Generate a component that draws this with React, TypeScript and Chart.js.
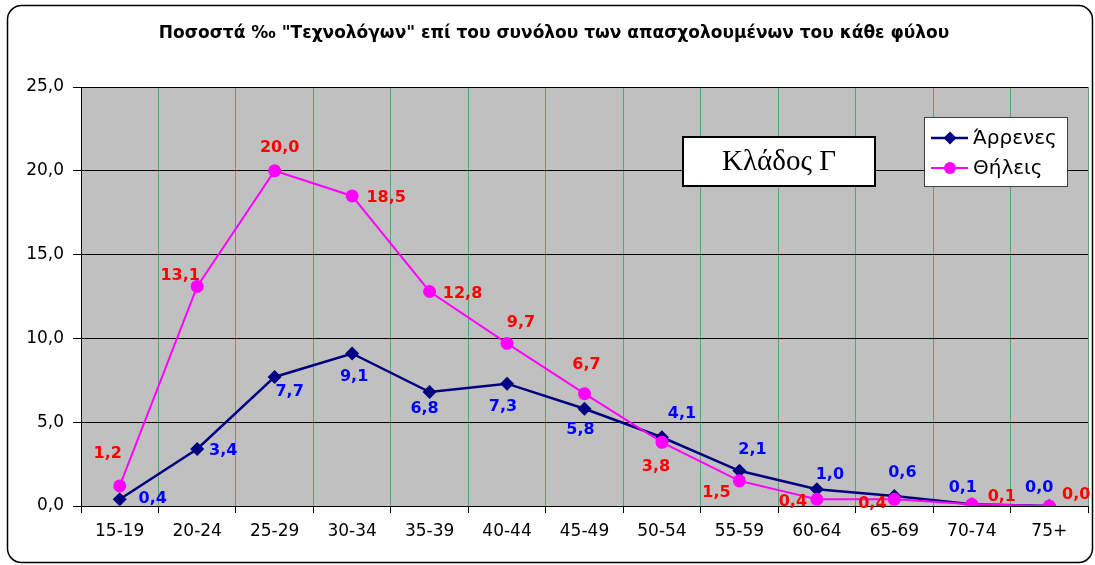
import React, { useEffect, useRef } from 'react';
import { Chart, registerables } from 'chart.js';

Chart.register(...registerables);

const categories = ['15-19', '20-24', '25-29', '30-34', '35-39', '40-44', '45-49', '50-54', '55-59', '60-64', '65-69', '70-74', '75+'];
const maleValues = [0.4, 3.4, 7.7, 9.1, 6.8, 7.3, 5.8, 4.1, 2.1, 1.0, 0.6, 0.1, 0.0];
const femaleValues = [1.2, 13.1, 20.0, 18.5, 12.8, 9.7, 6.7, 3.8, 1.5, 0.4, 0.4, 0.1, 0.0];
const titleText = 'Ποσοστά ‰ "Τεχνολόγων" επί του συνόλου των απασχολουμένων του κάθε φύλου';
const maleLabel = 'Άρρενες';
const femaleLabel = 'Θήλεις';
const boxText = 'Κλάδος Γ';

// label offsets (dx, dy) from each point, in px
const maleLabelOffsets = [[33, 0], [26, 2], [15, 15], [2, 23], [-5, 17], [-4, 23], [-4, 21], [20, -23], [13, -21], [13, -14], [8, -23], [-9, -16], [-10, -18]];
const femaleLabelOffsets = [[-12, -32], [-17, -11], [5, -23], [34, 2], [33, 2], [14, -21], [2, -29], [-6, 25], [-23, 12], [-24, 3], [-22, 5], [30, -7], [27, -11]];

const fmt = (v: number) => v.toFixed(1).replace('.', ',');

const decorPlugin = {
  id: 'decor',
  beforeDraw(chart: any) {
    const { ctx, chartArea } = chart;
    ctx.save();
    ctx.fillStyle = '#ffffff';
    ctx.fillRect(0, 0, chart.width, chart.height);
    // frame
    ctx.strokeStyle = '#000000';
    ctx.lineWidth = 1.5;
    ctx.beginPath();
    ctx.roundRect(7.5, 5.5, 1085, 557, 14);
    ctx.stroke();
    // title
    ctx.fillStyle = '#000000';
    ctx.font = 'bold 17px "DejaVu Sans"';
    ctx.textAlign = 'center';
    ctx.textBaseline = 'middle';
    ctx.fillText(titleText, 554, 34);
    // plot background
    ctx.fillStyle = '#c0c0c0';
    ctx.fillRect(chartArea.left, chartArea.top, chartArea.right - chartArea.left, chartArea.bottom - chartArea.top);
    ctx.restore();
  },
  afterDatasetsDraw(chart: any) {
    const { ctx } = chart;
    ctx.save();
    ctx.font = 'bold 16px "DejaVu Sans"';
    ctx.textAlign = 'center';
    ctx.textBaseline = 'middle';
    const mMeta = chart.getDatasetMeta(0);
    const fMeta = chart.getDatasetMeta(1);
    ctx.fillStyle = '#0000ff';
    mMeta.data.forEach((p: any, i: number) => {
      ctx.fillText(fmt(maleValues[i]), p.x + maleLabelOffsets[i][0], p.y + maleLabelOffsets[i][1]);
    });
    ctx.fillStyle = '#ff0000';
    fMeta.data.forEach((p: any, i: number) => {
      ctx.fillText(fmt(femaleValues[i]), p.x + femaleLabelOffsets[i][0], p.y + femaleLabelOffsets[i][1]);
    });

    // Κλάδος box
    ctx.fillStyle = '#ffffff';
    ctx.fillRect(683, 137, 192, 49);
    ctx.strokeStyle = '#000000';
    ctx.lineWidth = 2;
    ctx.strokeRect(683, 137, 192, 49);
    ctx.fillStyle = '#000000';
    ctx.font = '29px "Liberation Serif"';
    ctx.fillText(boxText, 779, 162);

    // legend
    ctx.fillStyle = '#ffffff';
    ctx.fillRect(924.5, 117.5, 143, 69);
    ctx.strokeStyle = '#404040';
    ctx.lineWidth = 1;
    ctx.strokeRect(924.5, 117.5, 143, 69);
    // male
    ctx.strokeStyle = '#000080';
    ctx.lineWidth = 2.5;
    ctx.beginPath();
    ctx.moveTo(931, 138);
    ctx.lineTo(968, 138);
    ctx.stroke();
    ctx.fillStyle = '#000080';
    ctx.beginPath();
    ctx.moveTo(950, 131.5);
    ctx.lineTo(956.5, 138);
    ctx.lineTo(950, 144.5);
    ctx.lineTo(943.5, 138);
    ctx.closePath();
    ctx.fill();
    // female
    ctx.strokeStyle = '#ff00ff';
    ctx.lineWidth = 2;
    ctx.beginPath();
    ctx.moveTo(931, 168);
    ctx.lineTo(968, 168);
    ctx.stroke();
    ctx.fillStyle = '#ff00ff';
    ctx.beginPath();
    ctx.arc(950, 168, 6, 0, Math.PI * 2);
    ctx.fill();
    ctx.fillStyle = '#000000';
    ctx.font = '20px "DejaVu Sans"';
    ctx.textAlign = 'left';
    ctx.fillText(maleLabel, 973, 139);
    ctx.fillText(femaleLabel, 973, 169);
    ctx.restore();
  },
};

export default function App() {
  const canvasRef = useRef<HTMLCanvasElement | null>(null);

  useEffect(() => {
    const canvas = canvasRef.current;
    if (!canvas) return;
    const chart = new Chart(canvas, {
      type: 'line',
      data: {
        labels: categories,
        datasets: [
          {
            label: maleLabel,
            data: maleValues,
            borderColor: '#000080',
            backgroundColor: '#000080',
            borderWidth: 2.5,
            pointStyle: 'rectRot',
            pointRadius: 7,
            pointBorderWidth: 0,
            pointBackgroundColor: '#000080',
            tension: 0,
            order: 1,
          },
          {
            label: femaleLabel,
            data: femaleValues,
            borderColor: '#ff00ff',
            backgroundColor: '#ff00ff',
            borderWidth: 2,
            pointStyle: 'circle',
            pointRadius: 6.5,
            pointBorderWidth: 0,
            pointBackgroundColor: '#ff00ff',
            tension: 0,
            order: 0,
          },
        ],
      },
      options: {
        animation: false,
        responsive: false,
        events: [],
        layout: { padding: { left: 0, right: 6, top: 87, bottom: 0 } },
        plugins: {
          legend: { display: false },
          title: { display: false },
          tooltip: { enabled: false },
        },
        scales: {
          x: {
            offset: true,
            grid: {
              offset: true,
              color: '#5aa078',
              lineWidth: 1,
              tickColor: '#000000',
              tickLength: 7,
              drawTicks: true,
            },
            border: { display: true, color: '#000000', width: 1 },
            ticks: {
              color: '#000000',
              font: { family: '"DejaVu Sans"', size: 17 },
              padding: 8,
              maxRotation: 0,
              autoSkip: false,
            },
            afterFit(scale: any) {
              scale.height = 59;
            },
          },
          y: {
            min: 0,
            max: 25,
            ticks: {
              stepSize: 5,
              color: '#000000',
              font: { family: '"DejaVu Sans"', size: 17 },
              padding: 9,
              callback: (v: any) => fmt(Number(v)),
            },
            grid: {
              color: '#000000',
              lineWidth: 1,
              tickColor: '#000000',
              tickLength: 8,
            },
            border: { display: true, color: '#000000', width: 1 },
            afterFit(scale: any) {
              scale.width = 81;
            },
          },
        },
      },
      plugins: [decorPlugin],
    });
    return () => chart.destroy();
  }, []);

  return (
    <div style={{ position: 'fixed', left: 0, top: 0, width: 1095, height: 565 }}>
      <canvas ref={canvasRef} width={1095} height={565} style={{ display: 'block', width: 1095, height: 565 }} />
    </div>
  );
}
